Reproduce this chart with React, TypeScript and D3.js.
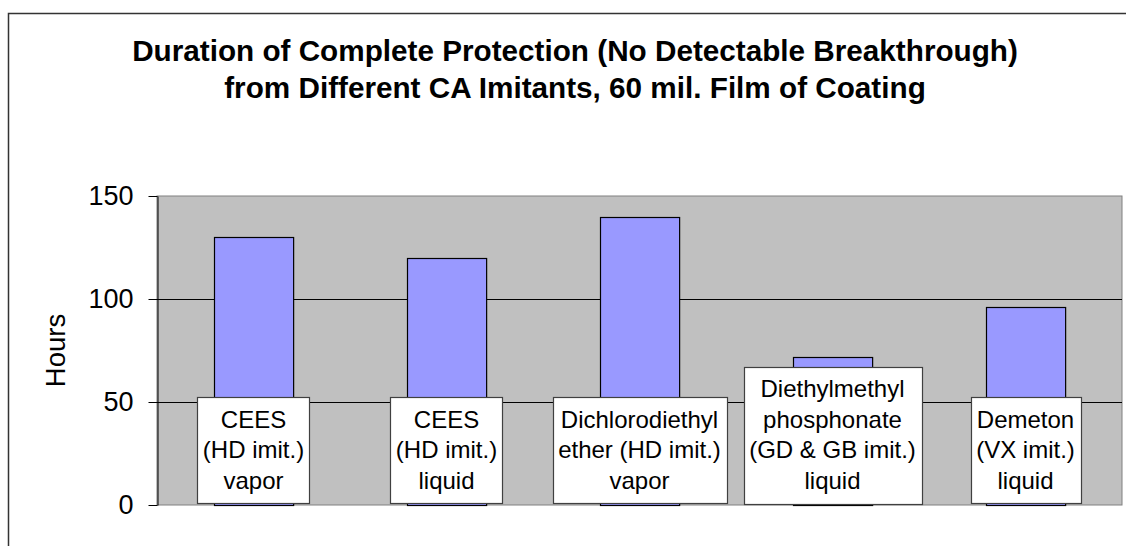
import React, { useEffect, useRef } from "react";
import * as d3 from "d3";

const categories: string[][] = [
  ["CEES", "(HD imit.)", "vapor"],
  ["CEES", "(HD imit.)", "liquid"],
  ["Dichlorodiethyl", "ether (HD imit.)", "vapor"],
  ["Diethylmethyl", "phosphonate", "(GD & GB imit.)", "liquid"],
  ["Demeton", "(VX imit.)", "liquid"],
];
const hours: number[] = [130, 120, 140, 72, 96];
const yTicks: number[] = [0, 50, 100, 150];
const titleLines: string[] = [
  "Duration of Complete Protection (No Detectable Breakthrough)",
  "from Different CA Imitants, 60 mil. Film of Coating",
];
const yLabel = "Hours";

const FONT = "'Liberation Sans', Arial, Helvetica, sans-serif";

export default function App() {
  const ref = useRef<SVGSVGElement | null>(null);

  useEffect(() => {
    const svg = d3.select(ref.current);
    svg.selectAll("*").remove();

    const W = 1126, H = 546;
    const plot = { left: 157, right: 1122, top: 196, bottom: 505 };

    // outer chart frame
    svg.append("rect")
      .attr("x", 8.5).attr("y", 13.5)
      .attr("width", 1300).attr("height", 700)
      .attr("fill", "#fff").attr("stroke", "#333").attr("stroke-width", 1.5);

    // title
    const title = svg.append("text")
      .attr("font-family", FONT).attr("font-weight", "bold")
      .attr("font-size", 29.7).attr("text-anchor", "middle").attr("fill", "#000");
    titleLines.forEach((t, i) => {
      title.append("tspan").attr("x", 575).attr("y", 60.5 + i * 37.5).text(t);
    });

    const x = d3.scaleBand<number>()
      .domain(d3.range(hours.length))
      .range([plot.left, plot.right])
      .paddingInner(0.59).paddingOuter(0.295);
    const y = d3.scaleLinear().domain([0, 150]).range([plot.bottom, plot.top]);

    // plot background
    svg.append("rect")
      .attr("x", plot.left).attr("y", plot.top)
      .attr("width", plot.right - plot.left).attr("height", plot.bottom - plot.top)
      .attr("fill", "#C0C0C0").attr("stroke", "#808080").attr("stroke-width", 1);

    // gridlines
    svg.append("g").selectAll("line")
      .data(yTicks.filter((t) => t > 0 && t < 150))
      .join("line")
      .attr("x1", plot.left).attr("x2", plot.right)
      .attr("y1", (d) => Math.round(y(d)) + 0.5).attr("y2", (d) => Math.round(y(d)) + 0.5)
      .attr("stroke", "#000").attr("stroke-width", 1);

    // bars
    svg.append("g").selectAll("rect")
      .data(hours)
      .join("rect")
      .attr("x", (_d, i) => Math.round(x(i)!) + 0.5)
      .attr("y", (d) => Math.round(y(d)) + 0.5)
      .attr("width", x.bandwidth())
      .attr("height", (d) => plot.bottom - Math.round(y(d)))
      .attr("fill", "#9999FF").attr("stroke", "#000").attr("stroke-width", 1.2);

    // y axis
    const yAxis = d3.axisLeft(y).tickValues(yTicks).tickSize(9).tickPadding(15).tickSizeOuter(0);
    const gy = svg.append("g").attr("transform", `translate(${plot.left + 0.5},0)`).call(yAxis);
    gy.select(".domain").attr("stroke", "#000");
    gy.selectAll(".tick line").attr("stroke", "#000");
    gy.selectAll(".tick text")
      .attr("font-family", FONT).attr("font-size", 27).attr("fill", "#000");

    // y label
    svg.append("text")
      .attr("transform", `translate(65,${(plot.top + plot.bottom) / 2}) rotate(-90)`)
      .attr("text-anchor", "middle")
      .attr("font-family", FONT).attr("font-size", 27.5).attr("fill", "#000")
      .text(yLabel);

    // category label boxes
    const lineH = 30.5;
    categories.forEach((lines, i) => {
      const cx = x(i)! + x.bandwidth() / 2;
      const g = svg.append("g");
      const boxH = lines.length * lineH + 14.5;
      const top = plot.bottom - 2 - boxH;
      const rect = g.append("rect");
      const txt = g.append("text")
        .attr("font-family", FONT).attr("font-size", 24).attr("fill", "#000")
        .attr("text-anchor", "middle");
      lines.forEach((l, j) => {
        txt.append("tspan").attr("x", cx).attr("y", top + 22 + j * lineH + 8.5).text(l);
      });
      let maxW = 0;
      txt.selectAll<SVGTSpanElement, unknown>("tspan").each(function () {
        maxW = Math.max(maxW, this.getComputedTextLength());
      });
      const bw = maxW + 11;
      rect.attr("x", Math.round(cx - bw / 2) + 0.5).attr("y", Math.round(top) + 0.5)
        .attr("width", Math.round(bw)).attr("height", Math.round(boxH))
        .attr("fill", "#fff").attr("stroke", "#404040").attr("stroke-width", 1.2);
    });

    svg.attr("width", W).attr("height", H);
  }, []);

  return (
    <svg
      ref={ref}
      width={1126}
      height={546}
      style={{ position: "absolute", left: 0, top: 0, display: "block" }}
    />
  );
}
